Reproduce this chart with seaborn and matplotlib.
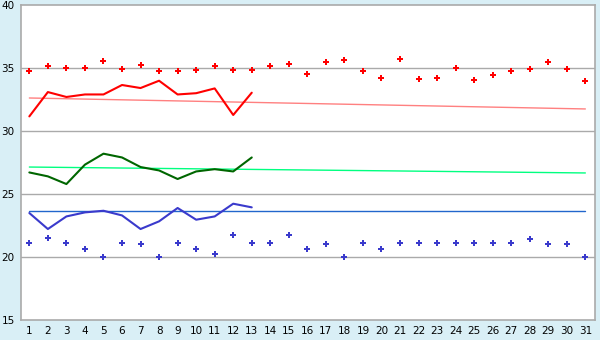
import matplotlib
matplotlib.use("Agg")
import matplotlib.pyplot as plt
import seaborn as sns
import pandas as pd
import numpy as np

days = list(range(1, 32))
line_days = list(range(1, 14))

red_points = [34.76, 35.16, 35.0, 35.0, 35.56, 34.92, 35.24, 34.76, 34.76, 34.84,
              35.16, 34.84, 34.84, 35.16, 35.32, 34.52, 35.48, 35.63, 34.76, 34.2,
              35.71, 34.13, 34.2, 35.0, 34.05, 34.44, 34.76, 34.92, 35.48, 34.92, 33.97]
blue_points = [21.11, 21.51, 21.11, 20.63, 20.0, 21.11, 21.03, 20.0, 21.11, 20.63,
               20.24, 21.75, 21.11, 21.11, 21.75, 20.63, 21.03, 20.0, 21.11, 20.63,
               21.11, 21.11, 21.11, 21.11, 21.11, 21.11, 21.11, 21.43, 21.03, 21.03, 20.0]

red_line = [31.16, 33.09, 32.7, 32.9, 32.9, 33.65, 33.41, 33.99, 32.9, 33.0, 33.38, 31.27, 33.04]
green_line = [26.71, 26.4, 25.79, 27.33, 28.2, 27.9, 27.14, 26.87, 26.19, 26.79, 26.97, 26.79, 27.9]
blue_line = [23.49, 22.22, 23.22, 23.54, 23.67, 23.3, 22.22, 22.83, 23.89, 22.96, 23.22, 24.23, 23.94]

trend_days = [1, 31]
red_trend = [32.62, 31.75]
green_trend = [27.14, 26.67]
blue_trend = [23.65, 23.65]

y_ticks = [15, 20, 25, 30, 35, 40]
x_ticks = days

sns.set_theme(style="white")
plt.rcParams['font.family'] = ['DejaVu Sans']

bg = '#d9eff6'
fig = plt.figure(figsize=(6, 3.4), dpi=100, facecolor=bg)
ax = fig.add_axes([21/600, 20/340, 574/600, 315/340])
ax.set_facecolor('white')

for v in [20, 25, 30, 35]:
    ax.axhline(v, color='#aaaaaa', lw=1.0, zorder=0)

sns.lineplot(x=trend_days, y=red_trend, ax=ax, color='#ff8080', lw=1.0)
sns.lineplot(x=trend_days, y=green_trend, ax=ax, color='#00ff80', lw=1.0)
sns.lineplot(x=trend_days, y=blue_trend, ax=ax, color='#2266cc', lw=1.0)

sns.lineplot(x=line_days, y=red_line, ax=ax, color='#ff0000', lw=1.5)
sns.lineplot(x=line_days, y=green_line, ax=ax, color='#006600', lw=1.5)
sns.lineplot(x=line_days, y=blue_line, ax=ax, color='#3a3acc', lw=1.5)

sns.scatterplot(x=days, y=red_points, ax=ax, color='#ff0000', marker='P', s=20, linewidth=0)
sns.scatterplot(x=days, y=blue_points, ax=ax, color='#3a3acc', marker='P', s=20, linewidth=0)

ax.set_xlim(0.55, 31.52)
ax.set_ylim(15, 40)
ax.set_xticks(x_ticks)
ax.set_xticklabels([str(d) for d in x_ticks])
ax.set_yticks(y_ticks)
ax.set_yticklabels([str(v) for v in y_ticks])
ax.tick_params(axis='both', direction='out', length=3, width=1, color='black',
               labelsize=7.5, labelcolor='black', pad=1.5)
for s in ax.spines.values():
    s.set_color('#aaaaaa')
    s.set_linewidth(1.2)
ax.set_xlabel('')
ax.set_ylabel('')

fig.savefig('out.png', dpi=100, facecolor=bg)
